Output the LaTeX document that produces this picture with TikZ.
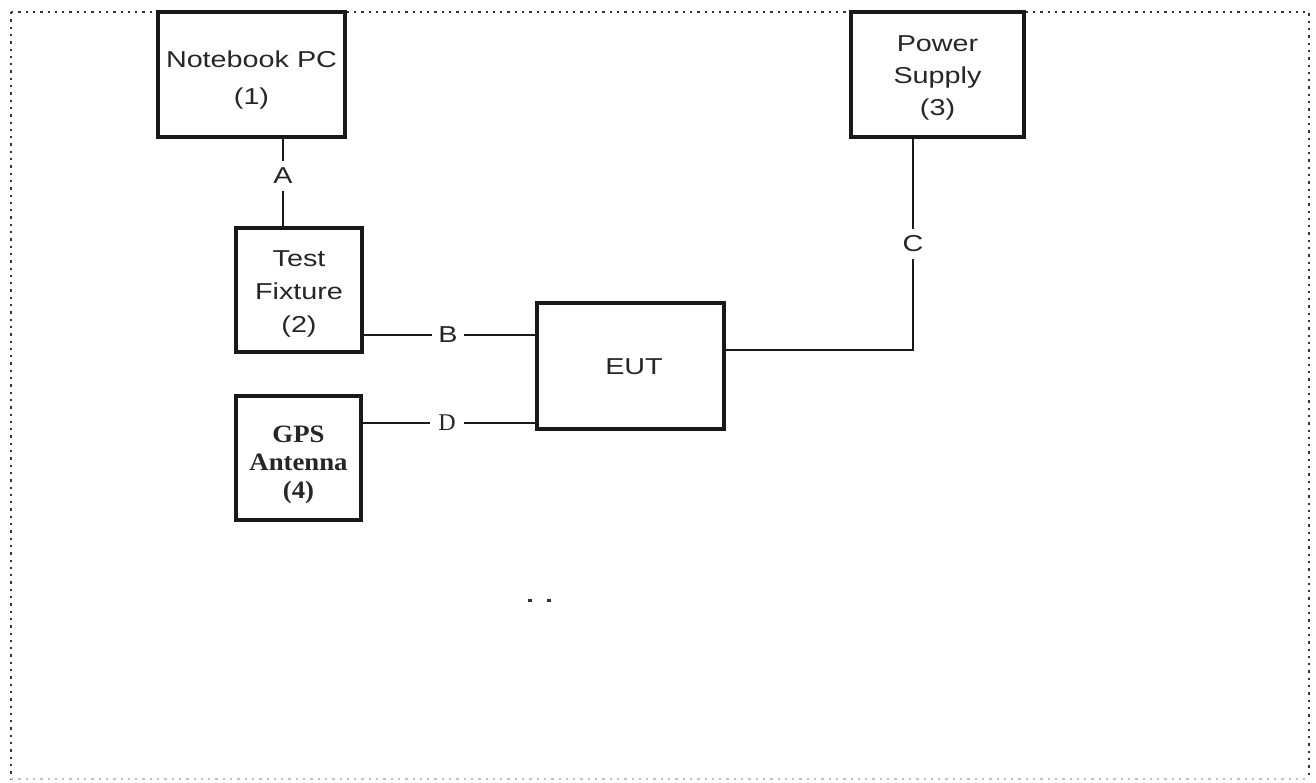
\documentclass[tikz,border=0pt]{standalone}
\usepackage{fontspec}
\setsansfont{Liberation Sans}[FakeStretch=1.25]
\setmainfont{Liberation Serif}
\newfontfamily\gpsfont{Liberation Serif}[FakeStretch=1.07]
\begin{document}
\begin{tikzpicture}[x=1pt,y=-1pt,
  box/.style={draw=black!90, line width=3.2pt, rectangle, inner sep=0pt},
  txt/.style={inner sep=0pt, align=center, text=black!85, font=\sffamily\fontsize{23}{#1}\selectfont},
  lab/.style={inner sep=0pt, minimum width=32pt, minimum height=30pt, text=black!85, font=\sffamily\fontsize{23}{28}\selectfont},
  serlab/.style={inner sep=0pt, minimum width=34pt, minimum height=30pt, text=black!85, font=\rmfamily\fontsize{24}{28}\selectfont},
  wire/.style={draw=black!90, line width=2.5pt},
  frame/.style={draw=black!80, line width=2.4pt, dash pattern=on 2.3pt off 5pt}]
\useasboundingbox (0,0) rectangle (1316,782);
\draw[frame] (11,12) -- (1309,12) -- (1309,779);
\draw[frame] (11,12) -- (11,779);
\draw[frame, draw=black!25] (11,779) -- (1309,779);

\node[box, minimum width=187pt, minimum height=125pt] (nb) at (251.5,74.5) {};
\node[box, minimum width=173pt, minimum height=125pt] (ps) at (937.5,74.5) {};
\node[box, minimum width=126pt, minimum height=124pt] (tf) at (299,290) {};
\node[box, minimum width=125pt, minimum height=124pt] (gps) at (298.5,458) {};
\node[box, minimum width=187pt, minimum height=126pt] (eut) at (630.5,366) {};

\node[txt=37] (nbt) at (251.5,80) {Notebook PC\\(1)};
\node[txt=32] (pst) at (937.5,78) {Power\\Supply\\(3)};
\node[txt=33] (tft) at (299,294) {Test\\Fixture\\(2)};
\node[inner sep=0pt, align=center, text=black!85, font=\gpsfont\bfseries\fontsize{25}{28}\selectfont] (gpst) at (298.5,465) {GPS\\Antenna\\(4)};
\node[txt=28] (eutt) at (634,367) {EUT};

\node[lab] (A) at (283,176) {A};
\node[lab] (B) at (448,335) {B};
\node[lab] (C) at (913,244) {C};
\node[serlab] (D) at (447,423) {D};
\coordinate (cc) at (913,350);

\draw[wire] (A.north) -- (A.north |- nb.south);
\draw[wire] (A.south) -- (A.south |- tf.north);
\draw[wire] (B.west) -- (B.west -| tf.east);
\draw[wire] (B.east) -- (B.east -| eut.west);
\draw[wire] (D.west) -- (D.west -| gps.east);
\draw[wire] (D.east) -- (D.east -| eut.west);
\draw[wire] (C.north) -- (C.north |- ps.south);
\draw[wire] (C.south) -- (cc) -- (cc -| eut.east);

\fill[black!80] (528,599) rectangle (532,601.5);
\fill[black!80] (547,599) rectangle (551,601.5);
\end{tikzpicture}
\end{document}
